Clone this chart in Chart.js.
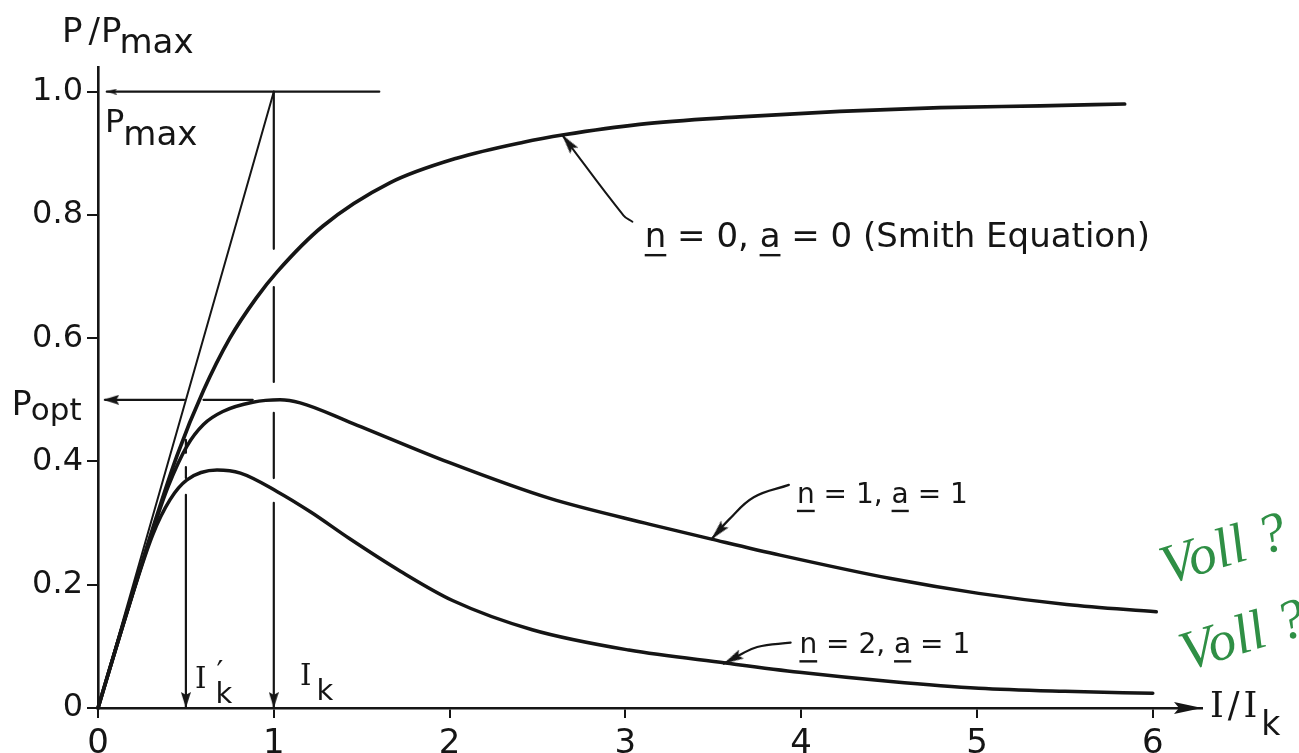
<!DOCTYPE html>
<html>
<head>
<meta charset="utf-8">
<script src="https://cdn.jsdelivr.net/npm/chart.js@4/dist/chart.umd.min.js"></script>
<style>
html,body{margin:0;padding:0;background:#ffffff;overflow:hidden;}
#wrap{position:relative;width:1299px;height:753px;}
</style>
</head>
<body>
<div id="wrap"><canvas id="c"></canvas></div>
<script>
// ---------------- data ----------------
const X_TICKS = [0, 1, 2, 3, 4, 5, 6];
const X_TICK_LABELS = ['0', '1', '2', '3', '4', '5', '6'];
const Y_TICKS = [0, 0.2, 0.4, 0.6, 0.8, 1.0];
const Y_TICK_LABELS = ['0', '0.2', '0.4', '0.6', '0.8', '1.0'];

// n = 0, a = 0 (Smith equation)
const smithX = [0, 0.14, 0.31, 0.45, 0.6, 0.75, 0.9, 1.02, 1.28, 1.66, 2.04, 2.42, 2.65, 3.08, 3.65, 4.22, 4.79, 5.36, 5.84];
const smithY = [0, 0.133, 0.29, 0.41, 0.515, 0.6, 0.665, 0.708, 0.782, 0.852, 0.892, 0.918, 0.93, 0.947, 0.959, 0.968, 0.974, 0.977, 0.98];

// n = 1, a = 1
const n1X = [0, 0.14, 0.31, 0.4, 0.506, 0.6, 0.71, 0.88, 1.035, 1.15, 1.43, 2.0, 2.57, 3.14, 3.49, 3.88, 4.51, 5.01, 5.51, 6.02];
const n1Y = [0, 0.133, 0.287, 0.36, 0.425, 0.46, 0.481, 0.496, 0.5, 0.495, 0.464, 0.398, 0.34, 0.298, 0.274, 0.248, 0.21, 0.186, 0.168, 0.156];

// n = 2, a = 1
const n2X = [0, 0.14, 0.31, 0.41, 0.506, 0.677, 0.81, 1.02, 1.21, 1.43, 1.72, 2.02, 2.47, 3.02, 3.57, 3.99, 4.51, 5.01, 5.5, 6.0];
const n2Y = [0, 0.132, 0.28, 0.338, 0.37, 0.386, 0.381, 0.351, 0.318, 0.275, 0.222, 0.174, 0.127, 0.094, 0.073, 0.058, 0.043, 0.032, 0.027, 0.024];

// construction lines
const tangentX = [0, 1];
const tangentY = [0, 1];
const pmaxLineX = [0.05, 1.6];
const pmaxLineY = [1, 1];
const poptLineX = [0.04, 0.49, 0.55, 0.6, 0.88];
const poptLineY = [0.5, 0.5, null, 0.5, 0.5];
const ikLineX = [1, 1, 1, 1, 1, 1, 1, 1, 1, 1, 1];
const ikLineY = [1.0, 0.745, null, 0.683, 0.529, null, 0.479, 0.373, null, 0.333, 0.0];
const ikpLineX = [0.5, 0.5, 0.5, 0.5, 0.5, 0.5, 0.5, 0.5];
const ikpLineY = [0.435, 0.414, null, 0.391, 0.373, null, 0.346, 0.0];

// label leader lines (tail -> tip)
const smithLeadX = [3.04, 2.99, 2.64];
const smithLeadY = [0.789, 0.799, 0.93];
const n1LeadX = [3.93, 3.73, 3.59, 3.49];
const n1LeadY = [0.362, 0.342, 0.306, 0.274];
const n2LeadX = [3.94, 3.75, 3.65, 3.56];
const n2LeadY = [0.106, 0.099, 0.086, 0.072];

// arrow heads: tip and the point the shaft comes from
const arrowTipX  = [0.05, 0.03, 0.5, 1.0, 6.28, 2.64, 3.49, 3.56];
const arrowTipY  = [1.0, 0.5, 0.0, 0.0, 0.0, 0.93, 0.274, 0.072];
const arrowFromX = [1.0, 0.4, 0.5, 1.0, 6.0, 2.99, 3.59, 3.65];
const arrowFromY = [1.0, 0.5, 0.3, 0.3, 0.0, 0.799, 0.306, 0.086];
const arrowKind  = ['s', 'm', 'm', 'm', 'l', 'n', 'n', 'n'];

// ---------------- styles ----------------
const INK = '#151515';
const SANS = '"DejaVu Sans", sans-serif';
const SERIF = '"DejaVu Serif", serif';

function makeArrow(len, half) {
  const c = document.createElement('canvas');
  c.width = len * 2; c.height = half * 2;
  const g = c.getContext('2d');
  g.fillStyle = INK;
  g.beginPath();
  g.moveTo(len, half);
  g.lineTo(0, 0);
  g.lineTo(len * 0.18, half);
  g.lineTo(0, half * 2);
  g.closePath();
  g.fill();
  return c;
}
const ARROWS = { s: makeArrow(10, 3), m: makeArrow(16, 5), n: makeArrow(20, 5), l: makeArrow(28, 6) };

const pts = (xs, ys) => xs.map((x, i) => ({ x: x, y: ys[i] }));
function lineDs(xs, ys, w, extra) {
  return Object.assign({
    data: pts(xs, ys), showLine: true, borderColor: INK, borderWidth: w,
    pointRadius: 0, pointHoverRadius: 0, fill: false, spanGaps: false, clip: false,
    borderCapStyle: 'round', borderJoinStyle: 'round'
  }, extra || {});
}

// ---------------- annotations (anchor in data units) ----------------
const FP = '34px ' + SANS;
const annotations = [
  { x: -0.205, y: 1.081, parts: [
    { t: 'P', f: FP }, { t: '/', f: FP, dx: 6 }, { t: 'P', f: FP, dx: 1 },
    { t: 'max', f: '34px ' + SANS, dx: -2, dy: 11 } ] },
  { x: 0.04, y: 0.935, parts: [ { t: 'P', f: '32px ' + SANS }, { t: 'max', f: '34px ' + SANS, dx: -1, dy: 13 } ] },
  { x: -0.49, y: 0.476, parts: [ { t: 'P', f: '33px ' + SANS }, { t: 'opt', f: '31px ' + SANS, dx: -1, dy: 5 } ] },
  { x: 0.552, y: 0.032, parts: [
    { t: 'I', f: '29px ' + SERIF }, { t: '\u2032', f: '30px ' + SANS, dx: 10, dy: -6, noAdvance: true },
    { t: 'k', f: '29px ' + SANS, dx: 9, dy: 15 } ] },
  { x: 1.149, y: 0.037, parts: [ { t: 'I', f: '29px ' + SERIF }, { t: 'k', f: '29px ' + SANS, dx: 5, dy: 15 } ] },
  { x: 6.325, y: -0.015, parts: [
    { t: 'I', f: '35px ' + SERIF }, { t: '/', f: '35px ' + SANS, dx: 4 },
    { t: 'I', f: '35px ' + SERIF, dx: 4 }, { t: 'k', f: '33px ' + SANS, dx: 4, dy: 18 } ] },
  { x: 3.11, y: 0.748, parts: [
    { t: 'n', f: '34px ' + SANS, u: 7 }, { t: ' = 0, ', f: '34px ' + SANS },
    { t: 'a', f: '34px ' + SANS, u: 7 }, { t: ' = 0 (Smith Equation)', f: '34px ' + SANS } ] },
  { x: 3.976, y: 0.333, parts: [
    { t: 'n', f: '28px ' + SANS, u: 7 }, { t: ' = 1, ', f: '28px ' + SANS },
    { t: 'a', f: '28px ' + SANS, u: 7 }, { t: ' = 1', f: '28px ' + SANS } ] },
  { x: 3.99, y: 0.089, parts: [
    { t: 'n', f: '28px ' + SANS, u: 7 }, { t: ' = 2, ', f: '28px ' + SANS },
    { t: 'a', f: '28px ' + SANS, u: 7 }, { t: ' = 1', f: '28px ' + SANS } ] }
];
const handNotes = [
  { x: 6.08, y: 0.2, t: 'Voll ?' },
  { x: 6.19, y: 0.06, t: 'Voll ?' }
];

const textPlugin = {
  id: 'texts',
  afterDatasetsDraw(chart) {
    const ctx = chart.ctx, xs = chart.scales.x, ys = chart.scales.y;
    ctx.save();
    ctx.textBaseline = 'alphabetic';
    ctx.textAlign = 'left';
    for (const a of annotations) {
      let cx = xs.getPixelForValue(a.x);
      const by = ys.getPixelForValue(a.y);
      for (const p of a.parts) {
        ctx.font = p.f;
        ctx.fillStyle = INK;
        const px = cx + (p.dx || 0);
        ctx.fillText(p.t, px, by + (p.dy || 0));
        const w = ctx.measureText(p.t).width;
        if (p.u) ctx.fillRect(px, by + (p.dy || 0) + p.u, w, 2.4);
        if (!p.noAdvance) cx = px + w;
      }
    }
    for (const h of handNotes) {
      ctx.save();
      ctx.translate(xs.getPixelForValue(h.x), ys.getPixelForValue(h.y));
      ctx.rotate(-0.3);
      ctx.font = 'italic 56px "Liberation Serif", serif';
      ctx.fillStyle = '#2f8f45';
      ctx.fillText(h.t, 0, 0);
      ctx.restore();
    }
    ctx.restore();
  }
};

const arrowRotation = (c) => {
  const i = c.dataIndex;
  if (i === undefined) return 0;
  const xs = c.chart.scales.x, ys = c.chart.scales.y;
  const dx = xs.getPixelForValue(arrowTipX[i]) - xs.getPixelForValue(arrowFromX[i]);
  const dy = ys.getPixelForValue(arrowTipY[i]) - ys.getPixelForValue(arrowFromY[i]);
  return Math.atan2(dy, dx) * 180 / Math.PI;
};

new Chart(document.getElementById('c'), {
  type: 'scatter',
  data: {
    datasets: [
      lineDs(smithX, smithY, 3.7, { cubicInterpolationMode: 'monotone' }),
      lineDs(n1X, n1Y, 3.5, { cubicInterpolationMode: 'monotone' }),
      lineDs(n2X, n2Y, 3.5, { cubicInterpolationMode: 'monotone' }),
      lineDs(tangentX, tangentY, 2),
      lineDs(pmaxLineX, pmaxLineY, 2.2),
      lineDs(poptLineX, poptLineY, 2.2),
      lineDs(ikLineX, ikLineY, 2.2),
      lineDs(ikpLineX, ikpLineY, 2.2),
      lineDs(smithLeadX, smithLeadY, 2, { tension: 0.4 }),
      lineDs(n1LeadX, n1LeadY, 2.2, { tension: 0.4 }),
      lineDs(n2LeadX, n2LeadY, 2.2, { tension: 0.4 }),
      {
        data: pts(arrowTipX, arrowTipY), showLine: false, clip: false,
        pointStyle: (c) => ARROWS[arrowKind[c.dataIndex]] || 'circle',
        rotation: arrowRotation, pointRadius: 14, pointHoverRadius: 14,
        backgroundColor: INK, borderColor: INK
      }
    ]
  },
  options: {
    responsive: true,
    maintainAspectRatio: false,
    animation: false,
    events: [],
    layout: { padding: { left: 0, top: 67, right: 97, bottom: 0 } },
    plugins: { legend: { display: false }, tooltip: { enabled: false } },
    scales: {
      x: {
        type: 'linear', min: 0, max: 6.28,
        afterBuildTicks: (s) => { s.ticks = X_TICKS.map(v => ({ value: v })); },
        afterFit: (s) => { s.height = 45; },
        ticks: {
          callback: (v) => X_TICK_LABELS[X_TICKS.indexOf(v)],
          font: { family: 'DejaVu Sans', size: 34 }, color: INK,
          padding: 6, maxRotation: 0, autoSkip: false
        },
        grid: { drawOnChartArea: false, drawTicks: true, tickLength: 10, color: INK, lineWidth: 2 },
        border: { display: true, color: INK, width: 2.6 }
      },
      y: {
        type: 'linear', min: 0, max: 1.04,
        afterBuildTicks: (s) => { s.ticks = Y_TICKS.map(v => ({ value: v })); },
        afterFit: (s) => { s.width = 98; },
        ticks: {
          callback: (v) => Y_TICK_LABELS[Y_TICKS.indexOf(v)],
          font: { family: 'DejaVu Sans', size: 32 }, color: INK,
          padding: 4, autoSkip: false
        },
        grid: { drawOnChartArea: false, drawTicks: true, tickLength: 11, color: INK, lineWidth: 2 },
        border: { display: true, color: INK, width: 2.6 }
      }
    }
  },
  plugins: [textPlugin]
});
</script>
</body>
</html>
